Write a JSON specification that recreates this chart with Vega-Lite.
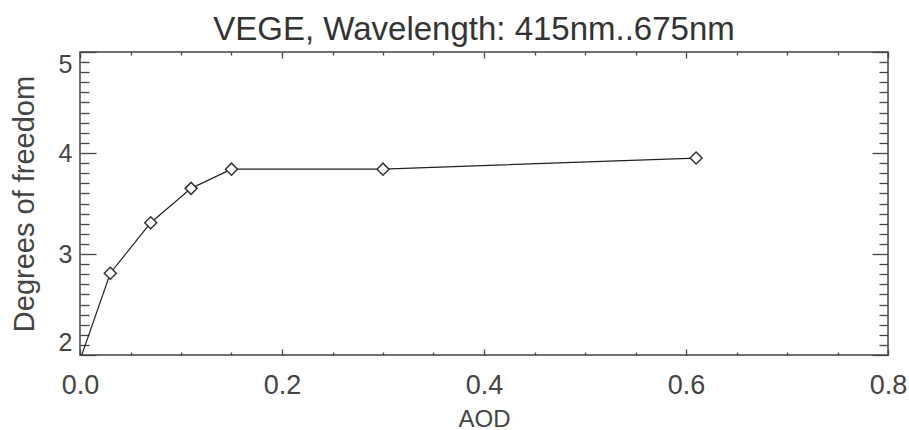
{
  "$schema": "https://vega.github.io/schema/vega-lite/v6.json",
  "autosize": "none",
  "width": 808,
  "height": 303,
  "padding": {"left": 80, "top": 52, "right": 21, "bottom": 75},
  "background": "white",
  "config": {
    "view": {"stroke": "#444", "strokeWidth": 1.5},
    "font": "Liberation Sans",
    "axis": {"grid": false, "domain": false, "tickColor": "#444", "tickWidth": 1.3, "labelColor": "#444", "titleColor": "#444", "labelFont": "Liberation Sans", "titleFont": "Liberation Sans", "titleFontWeight": "normal"}
  },
  "title": {"text": "VEGE, Wavelength: 415nm..675nm", "fontSize": 33, "fontWeight": "normal", "color": "#333", "font": "Liberation Sans", "anchor": "middle", "dx": -10, "offset": 4},
  "data": {"values": [
    {"aod": 0.0, "dof": 1.95},
    {"aod": 0.03, "dof": 2.81},
    {"aod": 0.07, "dof": 3.31},
    {"aod": 0.11, "dof": 3.65},
    {"aod": 0.15, "dof": 3.84},
    {"aod": 0.30, "dof": 3.84},
    {"aod": 0.61, "dof": 3.95}
  ]},
  "resolve": {"axis": {"x": "independent", "y": "independent"}},
  "layer": [
    {
      "mark": {"type": "line", "color": "#222", "strokeWidth": 1.2, "clip": true},
      "encoding": {
        "x": {"field": "aod", "type": "quantitative", "scale": {"domain": [0, 0.8], "nice": false, "zero": false},
          "axis": {"orient": "bottom", "title": "AOD", "titleFontSize": 24, "titlePadding": 9,
            "values": [0,0.05,0.1,0.15,0.2,0.25,0.3,0.35,0.4,0.45,0.5,0.55,0.6,0.65,0.7,0.75,0.8],
            "labelExpr": "abs(datum.value*5 - round(datum.value*5)) < 0.001 ? format(datum.value, '.1f') : ''",
            "labelFontSize": 27, "labelPadding": 23, "labelFlush": false,
            "tickSize": {"condition": {"test": "abs(datum.value*5 - round(datum.value*5)) < 0.001", "value": -6}, "value": -3}}},
        "y": {"field": "dof", "type": "quantitative", "scale": {"domain": [2, 5], "nice": false, "zero": false},
          "axis": {"orient": "left", "title": "Degrees of freedom", "titleFontSize": 29, "titlePadding": 19,
            "values": [2,2.1,2.2,2.3,2.4,2.5,2.6,2.7,2.8,2.9,3,3.1,3.2,3.3,3.4,3.5,3.6,3.7,3.8,3.9,4,4.1,4.2,4.3,4.4,4.5,4.6,4.7,4.8,4.9,5],
            "labelExpr": "abs(datum.value - round(datum.value)) < 0.001 ? format(datum.value, 'd') : ''",
            "labelFontSize": 25, "labelPadding": 24, "labelFlush": true,
            "tickSize": {"condition": {"test": "abs(datum.value - round(datum.value)) < 0.001", "value": -16}, "value": -9}}}
      }
    },
    {
      "mark": {"type": "point", "shape": "diamond", "size": 144, "filled": true, "fill": "white", "stroke": "#333", "strokeWidth": 1.5, "opacity": 1, "clip": true},
      "encoding": {
        "x": {"field": "aod", "type": "quantitative", "scale": {"domain": [0, 0.8], "nice": false, "zero": false},
          "axis": {"orient": "top", "title": null, "labels": false,
            "values": [0,0.05,0.1,0.15,0.2,0.25,0.3,0.35,0.4,0.45,0.5,0.55,0.6,0.65,0.7,0.75,0.8],
            "tickSize": {"condition": {"test": "abs(datum.value*5 - round(datum.value*5)) < 0.001", "value": -6}, "value": -3}}},
        "y": {"field": "dof", "type": "quantitative", "scale": {"domain": [2, 5], "nice": false, "zero": false},
          "axis": {"orient": "right", "title": null, "labels": false,
            "values": [2,2.1,2.2,2.3,2.4,2.5,2.6,2.7,2.8,2.9,3,3.1,3.2,3.3,3.4,3.5,3.6,3.7,3.8,3.9,4,4.1,4.2,4.3,4.4,4.5,4.6,4.7,4.8,4.9,5],
            "tickSize": {"condition": {"test": "abs(datum.value - round(datum.value)) < 0.001", "value": -16}, "value": -9}}}
      }
    }
  ]
}
